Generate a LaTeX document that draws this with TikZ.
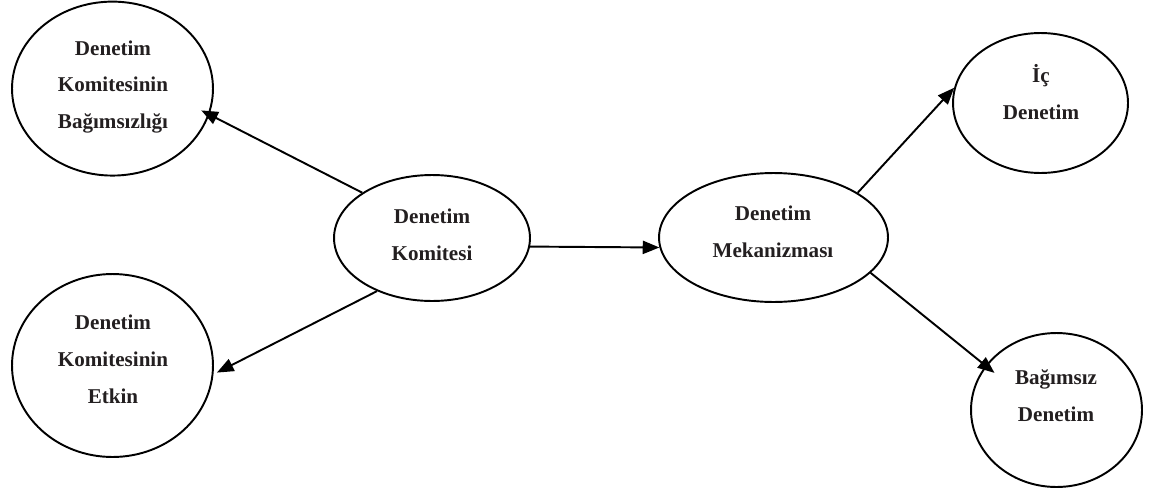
\documentclass[tikz,border=0pt]{standalone}
\usepackage{fontspec}
\setmainfont{Liberation Serif}
\usetikzlibrary{shapes.geometric,arrows.meta}
\definecolor{ink}{RGB}{35,31,32}
\begin{document}
\begin{tikzpicture}[x=0.02cm,y=-0.02cm,
  bubble/.style={draw=black, line width=1.1pt, ellipse, inner sep=0pt},
  txt/.style={align=center, text=ink, inner sep=0pt,
              font=\fontsize{12}{21}\selectfont\bfseries},
  link/.style={draw=black, line width=1.1pt,
               -{Triangle[length=9.5pt,width=7.5pt]}}]
\useasboundingbox (0,0) rectangle (1158,490);

% ellipses
\node[bubble, minimum width=4.02cm, minimum height=3.48cm] (bag) at (112.5,88.6) {};
\node[bubble, minimum width=4.02cm, minimum height=3.66cm] (etk) at (112.5,365.5) {};
\node[bubble, minimum width=3.92cm, minimum height=2.52cm] (kom) at (432,238) {};
\node[bubble, minimum width=4.58cm, minimum height=2.58cm] (mek) at (773.5,237.5) {};
\node[bubble, minimum width=3.50cm, minimum height=2.80cm] (ic)  at (1040.5,103) {};
\node[bubble, minimum width=3.42cm, minimum height=3.08cm] (bd)  at (1056.5,410) {};

% texts
\node[txt] (bagT) at (113,87)   {Denetim\\Komitesinin\\Bağımsızlığı};
\node[txt] (etkT) at (113,359)  {Denetim\\Komitesinin\\Etkin};
\node[txt] (komT) at (432,234.5) {Denetim\\Komitesi};
\node[txt] (mekT) at (773,231.5) {Denetim\\Mekanizması};
\node[txt] (icT)  at (1041,92)  {İç\\Denetim};
\node[txt] (bdT)  at (1056,396) {Bağımsız\\Denetim};

% connectors
\draw[link, shorten >=-5.2pt] (kom.147.4) -- (bag.-15.5);
\draw[link, shorten >=2.2pt]  (kom.-136)  -- (etk.-5.25);
\draw[link]                   (kom.-5.9)  -- (mek.-175.2);
\draw[link]                   (mek.28.8)  -- (ic.170.3);
\draw[link, shorten >=-6.6pt] (mek.-20.7) -- (bd.148.5);
\end{tikzpicture}
\end{document}
